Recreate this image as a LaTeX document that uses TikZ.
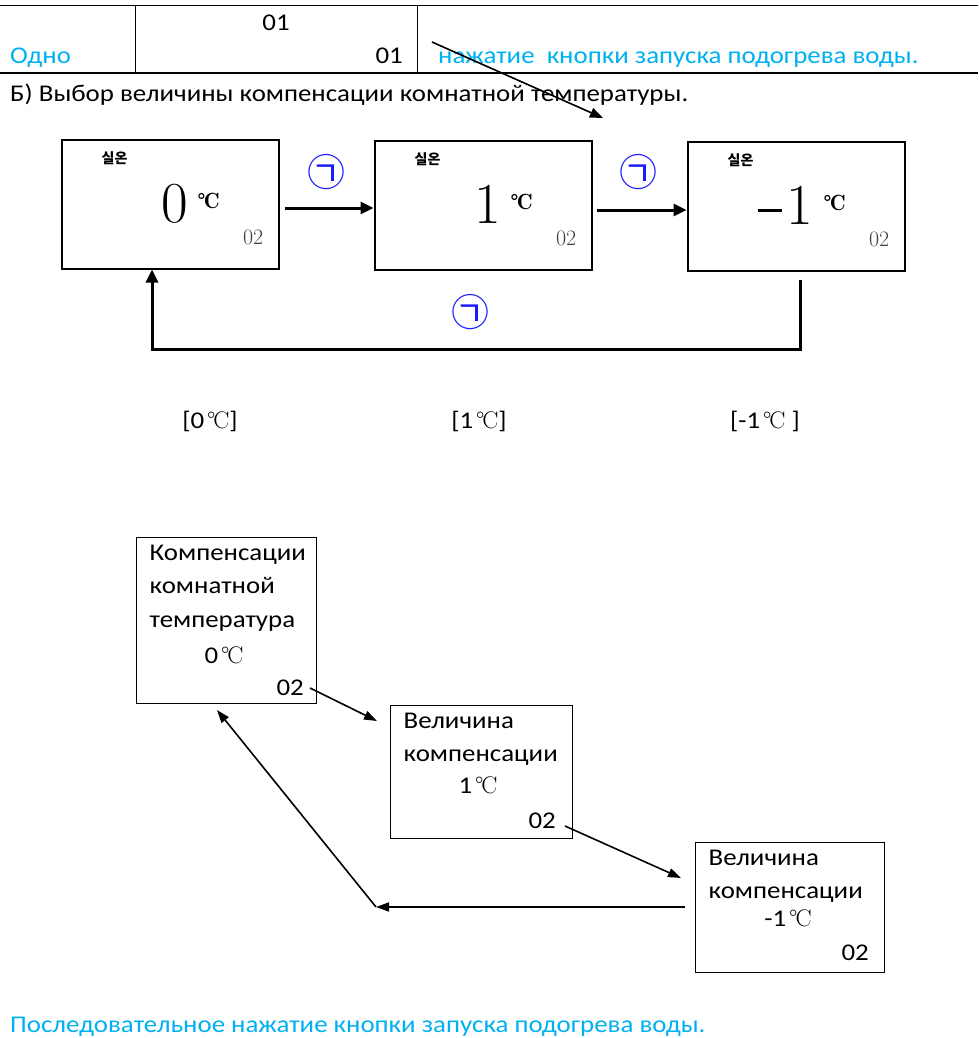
\documentclass[tikz,border=0pt]{standalone}
\usepackage{fontspec}
\setmainfont{Carlito}[FakeStretch=1.12]
\newfontfamily\krfont{Noto Sans CJK KR}
\usetikzlibrary{arrows.meta,positioning}
\definecolor{skyblue}{HTML}{00B0F0}
\definecolor{circblue}{HTML}{1A1AFF}
\newcommand{\celsius}{{\fontfamily{lmr}\selectfont\kern0.12em\textdegree\kern-0.08em C}}
\newcommand{\bigminus}{\rule[13pt]{24pt}{2.4pt}\kern5pt}

\begin{document}
\begin{tikzpicture}[x=1pt,y=-1pt,
    txt/.style={inner sep=0pt,font=\fontsize{24}{33.5}\selectfont},
    bluetxt/.style={txt,text=skyblue},
    screen/.style={draw,line width=2pt,minimum width=217pt,minimum height=129pt,inner sep=0pt},
    menubox/.style={draw,line width=1pt,inner sep=0pt},
    room/.style={inner sep=0pt,font=\krfont\bfseries\fontsize{14}{14}\selectfont},
    bignum/.style={inner sep=0pt,font=\fontfamily{lmr}\fontsize{58}{58}\selectfont},
    unit/.style={inner sep=0pt,font=\fontfamily{lmr}\bfseries\fontsize{22}{22}\selectfont},
    smallnum/.style={inner sep=0pt,text=black!75,font=\fontfamily{lmr}\fontsize{22}{22}\selectfont},
    keymark/.style={inner sep=0pt,text=circblue,font=\krfont\fontsize{38}{38}\selectfont},
    fat/.style={line width=3pt,-{Triangle[length=13pt,width=12pt]}},
    thin/.style={line width=1.6pt,-{Triangle[length=13pt,width=9pt]}}]
  \useasboundingbox (0,0) rectangle (978,1038);
  % header row
  \draw[line width=1pt] (0,6) -- (978,6);
  \draw[line width=1.4pt] (0,73) -- (978,73);
  \node[menubox,minimum width=282pt,minimum height=67pt] (hdr) at (276,39.5) {};
  \node[txt,anchor=base] (h1) at (276,31) {01};
  \node[txt,anchor=base east] (h2) at (403,64) {01};
  \node[bluetxt,anchor=base west] (one) at (10,64) {Одно};
  \node[bluetxt,anchor=base west] (press) at (438,64) {нажатие\ \ кнопки запуска подогрева воды.};
  \node[txt,anchor=base west] (title) at (10,102) {Б) Выбор величины компенсации комнатной температуры.};
  \coordinate (p0) at (432,42);
  \coordinate (p1) at (603,118);
  \draw[line width=1.6pt,-{Triangle[length=13pt,width=10pt]}] (p0) -- (p1);
  % display screens
  \node[screen] (s0) at (170,204) {};
  \node[screen] (s1) at (483,205) {};
  \node[screen] (s2) at (796,206) {};
  \foreach \s/\v/\dx in {s0/0/0,s1/1/0,s2/{\bigminus1}/-15} {
    \node[room] at ([shift={(54,20)}]\s.north west) {실온};
    \node[bignum,anchor=base] at ([shift={(114+\dx,84)}]\s.north west) {\v};
    \node[unit,anchor=base] at ([shift={(148,70)}]\s.north west) {\textdegree\kern-0.08em C};
    \node[smallnum,anchor=base east] at ([shift={(203,106)}]\s.north west) {02};
  }
  \coordinate (a0) at (285,208);
  \coordinate (a1) at (597,210);
  \draw[fat] (a0) -- (a0 -| s1.west);
  \draw[fat] (a1) -- (a1 -| s2.west);
  \node[keymark] (k0) at (326,172) {㉠};
  \node[keymark] (k1) at (638,172) {㉠};
  \node[keymark] (k2) at (470,312) {㉠};
  \coordinate (b0) at (800,280);
  \coordinate (b1) at (800,349);
  \coordinate (b2) at (152,349);
  \draw[fat,line join=miter] (b0) -- (b1) -- (b2) -- (b2 |- s0.south);
  % values
  \node[txt,anchor=base] (v0) at (210,428) {[0\celsius]};
  \node[txt,anchor=base] (v1) at (479,428) {[1\celsius]};
  \node[txt,anchor=base] (v2) at (765,428) {[-1\celsius\ ]};
  % menu boxes
  \node[menubox,minimum width=180pt,minimum height=166pt] (m0) at (226,620) {};
  \node[menubox,minimum width=182pt,minimum height=133pt] (m1) at (481,771.5) {};
  \node[menubox,minimum width=189pt,minimum height=130pt] (m2) at (789.5,907) {};
  \node[txt,anchor=north west,align=left] (m0t) at ([shift={(14,8)}]m0.north west) {Компенсации\\комнатной\\температура};
  \node[txt,anchor=base] (m0v) at (224,663) {0\celsius};
  \node[txt,anchor=base east] (m0n) at (304,695) {02};
  \node[txt,anchor=north west,align=left] (m1t) at ([shift={(14,8)}]m1.north west) {Величина\\компенсации};
  \node[txt,anchor=base] (m1v) at (478,793) {1\celsius};
  \node[txt,anchor=base east] (m1n) at (556,828) {02};
  \node[txt,anchor=north west,align=left] (m2t) at ([shift={(14,8)}]m2.north west) {Величина\\компенсации};
  \node[txt,anchor=base] (m2v) at (788,926) {-1\celsius};
  \node[txt,anchor=base east] (m2n) at (869,960) {02};
  \coordinate (c0) at (310,688);
  \coordinate (c1) at (565,826);
  \coordinate (c2) at (685,907);
  \coordinate (c3) at (376,907);
  \draw[thin] (c0) -- (377,721);
  \draw[thin] (c1) -- (681,878);
  \draw[thin] (c2) -- (c3);
  \draw[thin] (c3) -- (217,710);
  % footer
  \node[bluetxt,anchor=base west] (foot) at (10,1032) {Последовательное нажатие кнопки запуска подогрева воды.};
\end{tikzpicture}
\end{document}
